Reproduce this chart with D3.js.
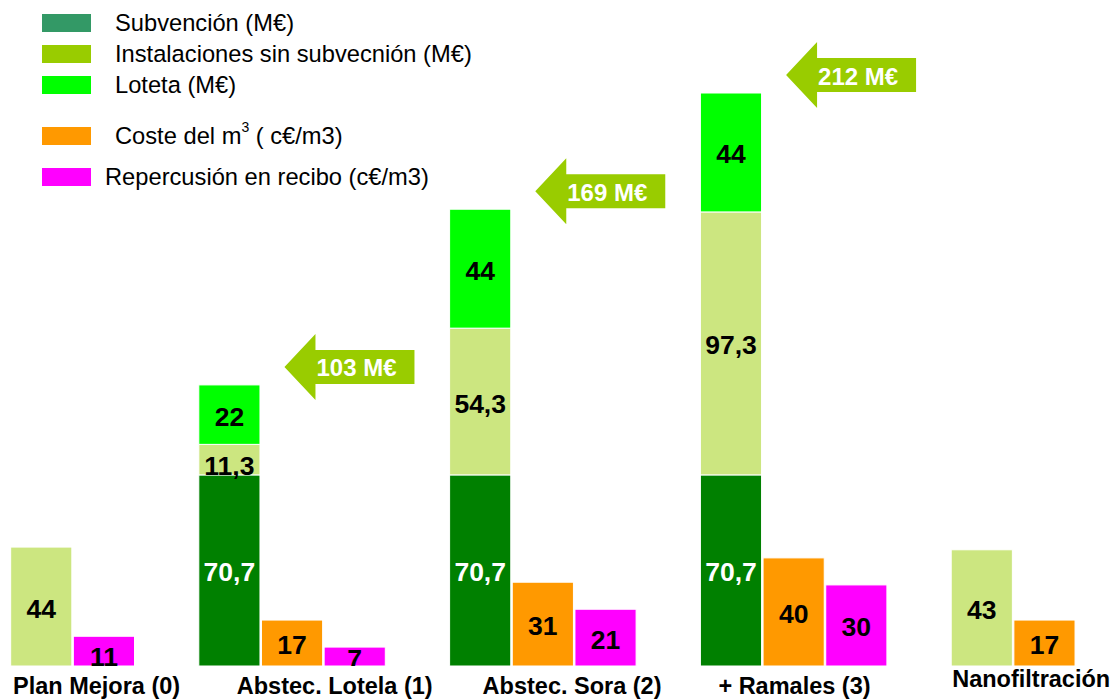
<!DOCTYPE html>
<html>
<head>
<meta charset="utf-8">
<script src="https://cdn.jsdelivr.net/npm/d3@7"></script>
<style>
  body { margin: 0; background: #fff; }
  text { font-family: "Liberation Sans", Arial, sans-serif; }
</style>
</head>
<body>
<div id="chart"></div>
<script>
// data
const groups = ["Plan Mejora (0)", "Abstec. Lotela (1)", "Abstec. Sora (2)", "+ Ramales (3)", "Nanofiltración"];
const subvencion    = [null, 70.7, 70.7, 70.7, null];
const instalaciones = [44, 11.3, 54.3, 97.3, 43];
const loteta        = [null, 22, 44, 44, null];
const coste         = [null, 17, 31, 40, 17];
const repercusion   = [11, 7, 21, 30, null];
const totalLabels   = [null, "103 M€", "169 M€", "212 M€", null];
const legendLabels  = ["Subvención (M€)", "Instalaciones sin subvecnión (M€)", "Loteta (M€)", "Coste del m", "Repercusión en recibo (c€/m3)"];

// layout
const width = 1114, height = 699;
const startSlot = [1, 0, 0, 0, 0];
const labelDx = [65, 38, 33, 18, 1];
const labelY = [694, 694, 694, 694, 687];

const svg = d3.select("#chart")
  .append("svg")
    .attr("width", width)
    .attr("height", height);

const x = d3.scaleBand()
  .domain(groups)
  .range([-52, 1202]);

const slot = d3.scaleBand()
  .domain([0, 1, 2])
  .range([0, 188]);

const y = d3.scaleLinear()
  .domain([0, 212])
  .range([666, 93]);

const stackSeries = [
  {key: "sub", values: subvencion, color: "#008000", text: "#fff"},
  {key: "ins", values: instalaciones, color: "#cce680", text: "#000"},
  {key: "lot", values: loteta, color: "#00ff00", text: "#000"}
];

// build the bars
const bars = [];
groups.forEach(function(g, i) {
  let col = startSlot[i];
  let base = 0;
  stackSeries.forEach(function(s) {
    const v = s.values[i];
    if (v != null) {
      bars.push({g: g, col: col, y0: base, y1: base + v, value: v, color: s.color, text: s.text});
      base += v;
    }
  });
  col++;
  if (coste[i] != null) {
    bars.push({g: g, col: col, y0: 0, y1: coste[i], value: coste[i], color: "#ff9900", text: "#000"});
    col++;
  }
  if (repercusion[i] != null) {
    bars.push({g: g, col: col, y0: 0, y1: repercusion[i], value: repercusion[i], color: "#ff00ff", text: "#000"});
  }
});

// rects
svg.selectAll("rect.bar")
  .data(bars)
  .enter()
  .append("rect")
    .attr("class", "bar")
    .attr("x", d => x(d.g) + slot(d.col))
    .attr("y", d => y(d.y1))
    .attr("width", slot.bandwidth() - 1.5)
    .attr("height", d => y(d.y0) - y(d.y1))
    .attr("fill", d => d.color)
    .attr("stroke", "#fff")
    .attr("stroke-width", 1);

// value labels, clipped at the base line
svg.append("clipPath")
    .attr("id", "clip")
  .append("rect")
    .attr("x", 0).attr("y", 0)
    .attr("width", width).attr("height", y(0));

const fmt = v => String(v).replace(".", ",");

svg.append("g")
    .attr("clip-path", "url(#clip)")
  .selectAll("text")
  .data(bars)
  .enter()
  .append("text")
    .attr("x", d => x(d.g) + slot(d.col) + (slot.bandwidth() - 1.5) / 2)
    .attr("y", function(d) {
      const mid = (y(d.y0) + y(d.y1)) / 2;
      const h = y(d.y0) - y(d.y1);
      return h < 40 ? Math.max(mid + 2, y(d.y0) - 9) : mid + 2;
    })
    .attr("text-anchor", "middle")
    .attr("dominant-baseline", "central")
    .style("font-size", "26.5px")
    .style("font-weight", "bold")
    .attr("fill", d => d.text)
    .text(d => fmt(d.value));

// category labels
svg.selectAll("text.cat")
  .data(groups)
  .enter()
  .append("text")
    .attr("class", "cat")
    .attr("x", (d, i) => x(d) + labelDx[i])
    .attr("y", (d, i) => labelY[i])
    .style("font-size", "23.5px")
    .style("font-weight", "bold")
    .attr("fill", "#000")
    .text(d => d);

// total arrows
const arrows = groups.map(function(g, i) {
  if (totalLabels[i] == null) return null;
  return {g: g, total: subvencion[i] + instalaciones[i] + loteta[i], label: totalLabels[i]};
}).filter(d => d);

const headLen = 31, headHalf = 33, bodyHalf = 17, arrowLen = 130;

const arrowG = svg.selectAll("g.arrow")
  .data(arrows)
  .enter()
  .append("g")
    .attr("class", "arrow")
    .attr("transform", d => `translate(${x(d.g) + slot.step() + 23}, ${y(d.total) - 18})`);

arrowG.append("path")
    .attr("d", `M0,0 L${headLen},${-headHalf} L${headLen},${-bodyHalf} L${arrowLen},${-bodyHalf} L${arrowLen},${bodyHalf} L${headLen},${bodyHalf} L${headLen},${headHalf} Z`)
    .attr("fill", "#99cc00");

arrowG.append("text")
    .attr("x", 72)
    .attr("y", 1)
    .attr("text-anchor", "middle")
    .attr("dominant-baseline", "central")
    .style("font-size", "24px")
    .style("font-weight", "bold")
    .attr("fill", "#fff")
    .text(d => d.label);

// legend
const legendColors = ["#339966", "#99cc00", "#00ff00", "#ff9900", "#ff00ff"];
const legendTop = [14, 45, 76, 127, 168];
const legendTextX = [115, 115, 115, 115, 105];

const leg = svg.selectAll("g.legend")
  .data(legendLabels)
  .enter()
  .append("g")
    .attr("class", "legend")
    .attr("transform", (d, i) => `translate(0, ${legendTop[i]})`);

leg.append("rect")
    .attr("x", 42)
    .attr("width", 49)
    .attr("height", 18)
    .attr("fill", (d, i) => legendColors[i]);

const legText = leg.append("text")
    .attr("x", (d, i) => legendTextX[i])
    .attr("y", 9)
    .attr("dominant-baseline", "central")
    .style("font-size", "23.7px")
    .attr("fill", "#000");

legText.append("tspan").text(d => d);
legText.filter((d, i) => i === 3)
  .call(function(t) {
    t.append("tspan").attr("dy", -9).style("font-size", "14px").text("3");
    t.append("tspan").attr("dy", 9).text(" ( c€/m3)");
  });
</script>
</body>
</html>
